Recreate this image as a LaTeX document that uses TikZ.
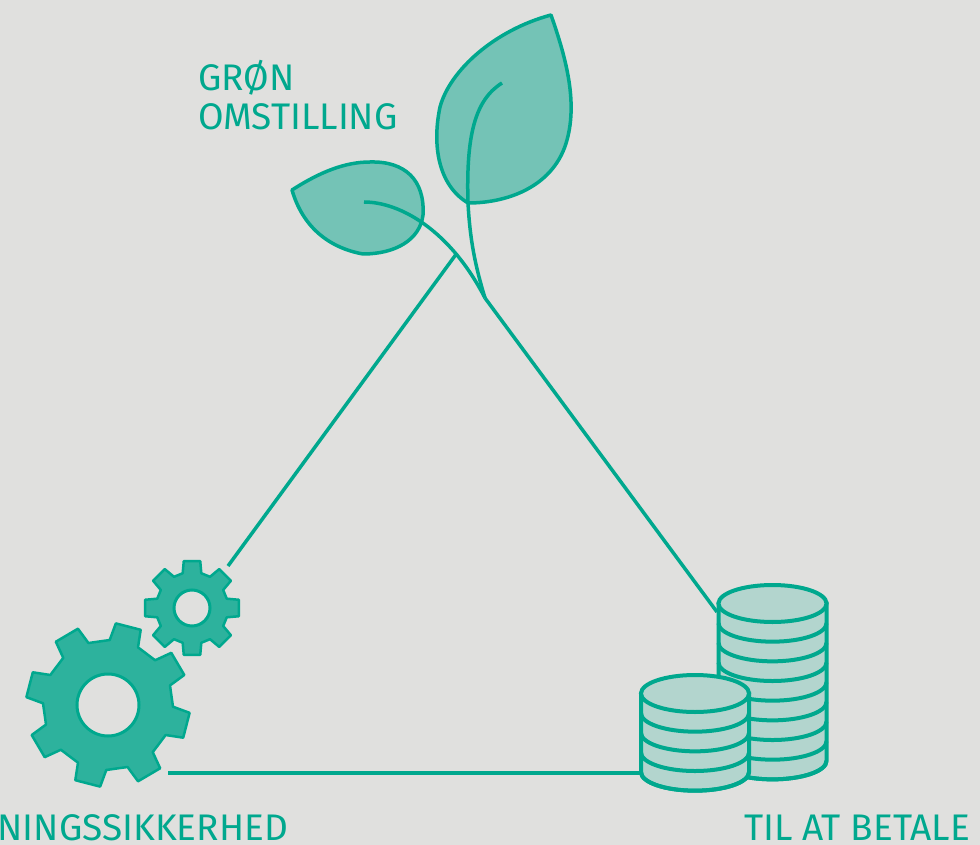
\documentclass[tikz,border=0pt]{standalone}
\usepackage{fontspec}
\setmainfont{Fira Sans}
\definecolor{bgcol}{HTML}{E0E0DE}
\definecolor{linecol}{HTML}{00A88E}
\definecolor{coincol}{HTML}{B3D5CE}
\definecolor{leafcol}{HTML}{74C3B6}
\definecolor{gearcol}{HTML}{2DB29D}
\tikzset{
	link/.style={draw=linecol,line width=3.5pt},
	leaf/.style={draw=linecol,fill=leafcol,line width=3.5pt,line join=round},
	stem/.style={draw=linecol,line width=3.5pt},
	coin/.style={draw=linecol,fill=coincol,line width=4pt},
	gearbody/.style={draw=linecol,fill=gearcol,line width=2.5pt,line join=round},
	gearhole/.style={draw=linecol,fill=bgcol,line width=3pt},
	label/.style={text=linecol,inner sep=0pt,font=\fontsize{37}{39}\selectfont},
}
% center x, center y, tip radius, root radius, first tooth angle, tip half angle, root half angle
\newcommand{\cogwheel}[7]{
	\draw[gearbody,shift={(#1,#2)}] (#5-#7:#4)
	\foreach \k in {0,...,7}{
		-- ({#5+45*\k-#7}:#4) -- ({#5+45*\k-#6}:#3) -- ({#5+45*\k+#6}:#3) -- ({#5+45*\k+#7}:#4)
	} -- cycle;
}
% center x, top y, number of coins, half width
\newcommand{\coinstack}[4]{
	\path[coin] (#1-#4,#2) -- (#1-#4,#2+19.67*#3) arc[start angle=180,end angle=0,x radius=#4,y radius=18.5] -- (#1+#4,#2) -- cycle;
	\foreach \k in {1,...,#3}{
		\draw[coin,fill=none] (#1-#4,#2+19.67*\k) arc[start angle=180,end angle=0,x radius=#4,y radius=18.5];
	}
	\draw[coin] (#1,#2) ellipse[x radius=#4,y radius=18.5];
}
\begin{document}
\begin{tikzpicture}[x=1pt,y=-1pt]
	\clip (0,0) rectangle (980,845);
	\useasboundingbox (0,0) rectangle (980,845);
	\fill[bgcol] (0,0) rectangle (980,845);

	% ends of the triangle sides
	\coordinate (leafleft) at (457,253);
	\coordinate (gearend) at (228,566);
	\coordinate (sprout) at (485,298);
	\coordinate (stackend) at (717,612);
	\coordinate (wheelend) at (168,773);
	\coordinate (smallstack) at (640,773);

	\draw[link] (leafleft) -- (gearend);
	\draw[link] (sprout) -- (stackend);
	\draw[link] (wheelend) -- (smallstack);

	% leaves
	\draw[leaf] (551,15) .. controls (495,30) and (450,70) .. (440,107) .. controls (432,145) and (438,185) .. (468,203) .. controls (510,203) and (555,185) .. (567,140) .. controls (578,100) and (565,55) .. (551,15) -- cycle;
	\draw[leaf] (292,190) .. controls (320,172) and (345,162) .. (370,162) .. controls (405,161) and (425,180) .. (423,215) .. controls (420,240) and (395,254) .. (363,254) .. controls (330,248) and (303,228) .. (292,190) -- cycle;
	\draw[stem] (502,83) .. controls (475,100) and (466,135) .. (468,203) .. controls (470,240) and (475,265) .. (485,298);
	\draw[stem] (364,202) .. controls (400,202) and (450,230) .. (485,298);

	% gears
	\cogwheel{108}{705}{82}{65}{-75.5}{9}{13}
	\draw[gearhole] (108,705) circle (31);
	\cogwheel{192}{608}{47.5}{36}{0}{10}{15}
	\draw[gearhole] (192,608) circle (18);

	% coins
	\coinstack{772.5}{603.5}{8}{54}
	\coinstack{695}{693.5}{4}{54}

	\node[label,anchor=south west,align=left] (green) at (198,130) {GRØN\\OMSTILLING};
	\node[label,anchor=base east] (security) at (288,840) {NINGSSIKKERHED};
	\node[label,anchor=base east] (afford) at (970,840) {TIL AT BETALE};
\end{tikzpicture}
\end{document}
